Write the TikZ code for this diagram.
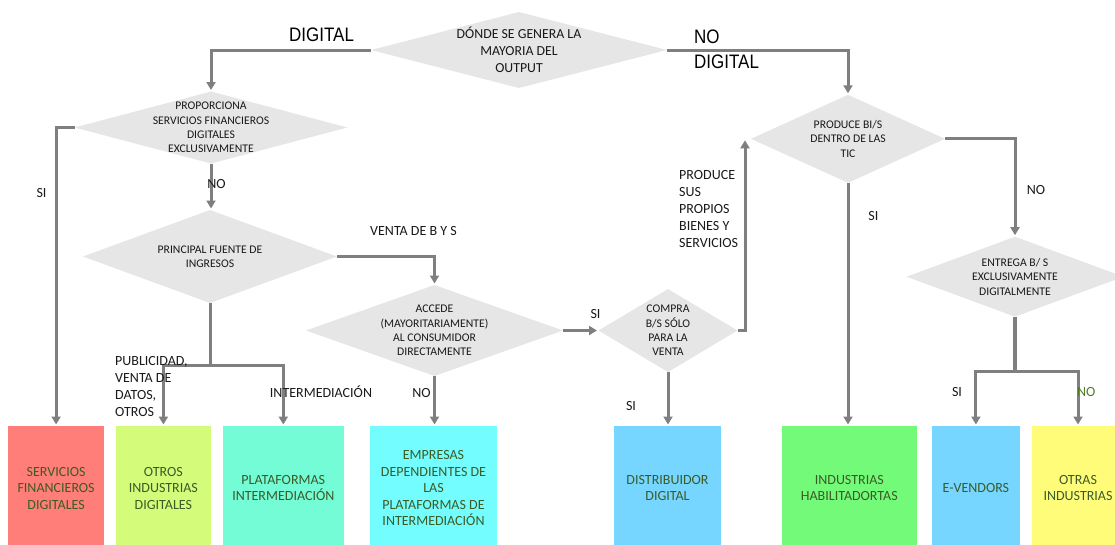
\documentclass[tikz,border=0pt]{standalone}
\usepackage{fontspec}
\setmainfont{Carlito}
\newfontfamily\headfont[FakeStretch=0.87]{Liberation Sans}
\usetikzlibrary{shapes.geometric,arrows.meta}

\definecolor{linegray}{HTML}{7F7F7F}
\definecolor{diafill}{HTML}{E6E6E6}
\definecolor{boxtext}{HTML}{3B5B27}
\definecolor{salmon}{HTML}{FF7E79}
\definecolor{honeydew}{HTML}{D4FB79}
\definecolor{spindrift}{HTML}{73FCD6}
\definecolor{ice}{HTML}{73FDFF}
\definecolor{sky}{HTML}{76D6FF}
\definecolor{flora}{HTML}{73FA79}
\definecolor{banana}{HTML}{FFFC79}
\definecolor{clover}{HTML}{4F7A28}

\begin{document}
\begin{tikzpicture}[x=1pt,y=-1pt,
  dia/.style={diamond, fill=diafill, inner sep=0pt, outer sep=0pt},
  diatext/.style={align=center, inner sep=0pt, text=black!90,
    font=\fontsize{11.7}{14.4}\selectfont},
  toptext/.style={diatext, font=\fontsize{13.8}{17}\selectfont},
  fbox/.style={rectangle, inner sep=0pt, outer sep=0pt, minimum height=124pt,
    align=center, text=boxtext, font=\fontsize{14}{16.5}\selectfont},
  lbl/.style={inner sep=0pt, align=left, text=black!90,
    font=\fontsize{14}{17}\selectfont},
  big/.style={inner sep=0pt, align=left, text=black,
    font=\headfont\fontsize{19.5}{25}\selectfont},
  conn/.style={draw=linegray, line width=3pt},
  arr/.style={conn, -{Triangle[width=9pt,length=8pt]}, shorten >=1.5pt},
]
\useasboundingbox (0,0) rectangle (1115,544);
\clip (0,0) rectangle (1115,544);

% decision diamonds
\node[dia, minimum width=296pt, minimum height=76pt] (d1) at (519,50) {};
\node[toptext] (d1t) at (d1.center) {DÓNDE SE GENERA LA\\MAYORIA DEL\\OUTPUT};

\node[dia, minimum width=273pt, minimum height=72pt] (d2) at (211,127.5) {};
\node[diatext] (d2t) at (d2.center) {PROPORCIONA\\SERVICIOS FINANCIEROS\\DIGITALES\\EXCLUSIVAMENTE};

\node[dia, minimum width=254pt, minimum height=93pt] (d3) at (210,256.5) {};
\node[diatext] (d3t) at (d3.center) {PRINCIPAL FUENTE DE\\INGRESOS};

\node[dia, minimum width=257pt, minimum height=91pt] (d4) at (434.5,330.5) {};
\node[diatext] (d4t) at (d4.center) {ACCEDE\\(MAYORITARIAMENTE)\\AL CONSUMIDOR\\DIRECTAMENTE};

\node[dia, minimum width=139pt, minimum height=83pt] (dc) at (668,330.5) {};
\node[diatext] (dct) at (dc.center) {COMPRA\\B/S SÓLO\\PARA LA\\VENTA};

\node[dia, minimum width=194pt, minimum height=88pt] (dp) at (848,138.8) {};
\node[diatext] (dpt) at (dp.center) {PRODUCE BI/S\\DENTRO DE LAS\\TIC};

\node[dia, minimum width=217pt, minimum height=80pt] (de) at (1015,276.7) {};
\node[diatext] (det) at (de.center) {ENTREGA B/ S\\EXCLUSIVAMENTE\\DIGITALMENTE};

% outcome boxes
\node[fbox, fill=salmon,    minimum width=96.4pt] (b1) at (56.1,488) {SERVICIOS\\FINANCIEROS\\DIGITALES};
\node[fbox, fill=honeydew,  minimum width=94.7pt] (b2) at (163.4,488) {OTROS\\INDUSTRIAS\\DIGITALES};
\node[fbox, fill=spindrift, minimum width=120.6pt] (b3) at (283.3,488) {PLATAFORMAS\\INTERMEDIACIÓN};
\node[fbox, fill=ice,       minimum width=127pt] (b4) at (433.5,488) {EMPRESAS\\DEPENDIENTES DE\\LAS\\PLATAFORMAS DE\\INTERMEDIACIÓN};
\node[fbox, fill=sky,       minimum width=107pt] (b5) at (667.5,488) {DISTRIBUIDOR\\DIGITAL};
\node[fbox, fill=flora,     minimum width=135pt] (b6) at (849.3,488) {INDUSTRIAS\\HABILITADORTAS};
\node[fbox, fill=sky,       minimum width=88.2pt] (b7) at (975.9,488) {E-VENDORS};
\node[fbox, fill=banana,    minimum width=92pt] (b8) at (1078,488) {OTRAS\\INDUSTRIAS};

% branch points
\coordinate (j1) at (210,365);
\coordinate (j2) at (1015,371.7);
\coordinate (cup) at (745,330.5);

% connectors
\draw[arr] (d1.west) -| (d2.north);
\draw[arr] (d1.east) -| (dp.north);
\draw[arr] (d2.west) -| (b1.north);
\draw[arr] (d2.south) -- (d2.south |- d3.north);
\draw[arr] (d3.east) -| (d4.north);
\draw[conn] (d3.south) -- (j1);
\draw[arr] (j1) -| (b2.north);
\draw[arr] (j1) -| (b3.north);
\draw[arr] (d4.south) -- (d4.south |- b4.north);
\draw[arr] (d4.east) -- (dc.west);
\draw[arr] (dc.east) -- (cup) -- (cup |- dp.west);
\draw[arr] (dc.south) -- (dc.south |- b5.north);
\draw[arr] (dp.south) -- (dp.south |- b6.north);
\draw[arr] (dp.east) -| (de.north);
\draw[conn, line width=4.5pt] (de.south) -- (j2);
\draw[arr] (j2) -| (b7.north);
\draw[arr] (j2) -| (b8.north);

% branch labels
\node[big, anchor=base west] (ldig) at (289,41.7) {DIGITAL};
\node[big, anchor=west] (lnodig) at (694,49.5) {NO\\DIGITAL};
\node[lbl, anchor=base] (lsi1) at (41.5,197) {SI};
\node[lbl, anchor=base] (lno1) at (216.5,188.5) {NO};
\node[lbl, anchor=base] (lventa) at (413.5,235) {VENTA DE B Y S};
\node[lbl, anchor=west] (lpub) at (115,386.2) {PUBLICIDAD,\\VENTA DE\\DATOS,\\OTROS};
\node[lbl, anchor=base] (linter) at (321,397.3) {INTERMEDIACIÓN};
\node[lbl, anchor=base] (lno2) at (421.5,397.3) {NO};
\node[lbl, anchor=base] (lsi2) at (595.5,318.3) {SI};
\node[lbl, anchor=base] (lsi3) at (631,410.7) {SI};
\node[lbl, anchor=west] (lprod) at (679,209.3) {PRODUCE\\SUS\\PROPIOS\\BIENES Y\\SERVICIOS};
\node[lbl, anchor=base] (lsi4) at (873.4,220.7) {SI};
\node[lbl, anchor=base] (lno3) at (1036,194) {NO};
\node[lbl, anchor=base] (lsi5) at (957,396.7) {SI};
\node[lbl, anchor=base, text=clover] (lno4) at (1086.3,396.7) {NO};
\end{tikzpicture}
\end{document}
